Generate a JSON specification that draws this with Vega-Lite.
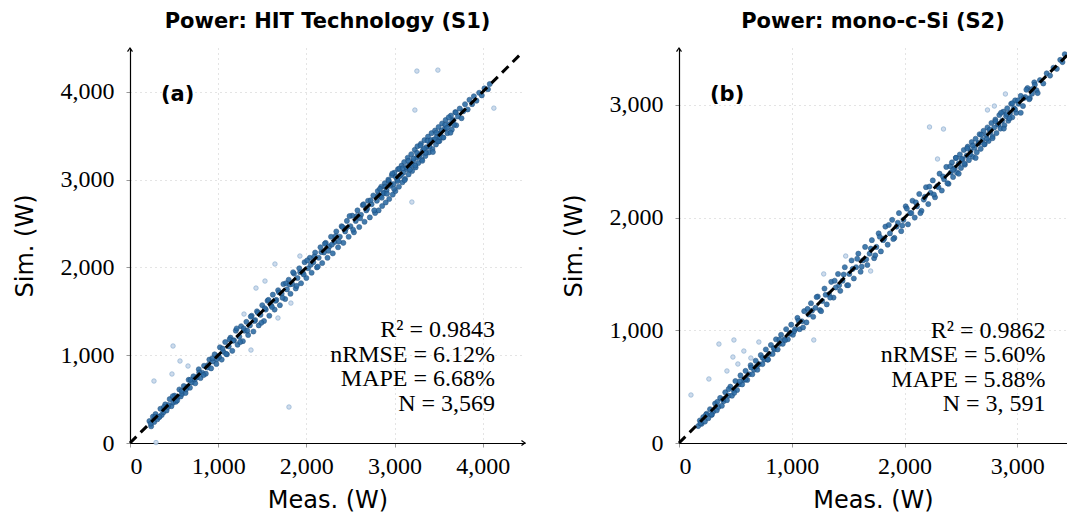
{
  "$schema": "https://vega.github.io/schema/vega-lite/v6.json",
  "padding": {"left": 13, "top": 10, "right": 0, "bottom": 0},
  "background": "white",
  "spacing": 34,
  "config": {
    "view": {"stroke": null},
    "axis": {
      "labelFont": "Liberation Serif", "labelFontSize": 24, "labelColor": "black",
      "tickColor": "#999", "tickSize": 4, "domainColor": "black", "domainWidth": 1.2,
      "grid": true, "gridColor": "#c8c8c8", "gridDash": [1, 4], "gridWidth": 1,
      "titleFont": "DejaVu Sans", "titleFontSize": 24, "titleFontWeight": "normal", "titleColor": "black",
      "labelExpr": "format(datum.value, ',')"
    },
    "axisX": {"labelPadding": 7, "titlePadding": 10},
    "axisY": {"labelPadding": 12, "titlePadding": 23},
    "title": {"font": "DejaVu Sans", "fontSize": 21, "fontWeight": "bold", "color": "black", "frame": "group", "offset": 14}
  },
  "datasets": {
    "a": [
      {"m":220,"s":250,"k":"m"},{"m":240,"s":190,"k":"m"},{"m":260,"s":300,"k":"m"},{"m":275,"s":240,"k":"m"},{"m":290,"s":330,"k":"m"},{"m":310,"s":270,"k":"m"},{"m":330,"s":300,"k":"m"},{"m":345,"s":390,"k":"m"},{"m":360,"s":320,"k":"m"},{"m":380,"s":350,"k":"m"},
      {"m":400,"s":440,"k":"m"},{"m":415,"s":370,"k":"m"},{"m":430,"s":410,"k":"m"},{"m":450,"s":500,"k":"m"},{"m":470,"s":420,"k":"m"},{"m":490,"s":460,"k":"m"},{"m":505,"s":540,"k":"m"},{"m":520,"s":470,"k":"m"},{"m":540,"s":520,"k":"m"},{"m":560,"s":610,"k":"m"},
      {"m":575,"s":530,"k":"m"},{"m":590,"s":560,"k":"m"},{"m":610,"s":650,"k":"m"},{"m":630,"s":570,"k":"m"},{"m":650,"s":640,"k":"m"},{"m":665,"s":720,"k":"m"},{"m":680,"s":630,"k":"m"},{"m":700,"s":690,"k":"m"},{"m":720,"s":760,"k":"m"},{"m":740,"s":680,"k":"m"},
      {"m":760,"s":750,"k":"m"},{"m":780,"s":840,"k":"m"},{"m":800,"s":740,"k":"m"},{"m":820,"s":800,"k":"m"},{"m":840,"s":880,"k":"m"},{"m":860,"s":790,"k":"m"},{"m":880,"s":860,"k":"m"},{"m":900,"s":950,"k":"m"},{"m":920,"s":850,"k":"m"},{"m":940,"s":930,"k":"m"},
      {"m":960,"s":1010,"k":"m"},{"m":980,"s":900,"k":"m"},{"m":1000,"s":990,"k":"m"},
      {"m":1020,"s":1090,"k":"m"},{"m":1040,"s":950,"k":"m"},{"m":1060,"s":1040,"k":"m"},{"m":1080,"s":1150,"k":"m"},{"m":1100,"s":1010,"k":"m"},{"m":1120,"s":1100,"k":"m"},{"m":1140,"s":1200,"k":"m"},{"m":1160,"s":1050,"k":"m"},{"m":1180,"s":1170,"k":"m"},{"m":1200,"s":1280,"k":"m"},
      {"m":1220,"s":1120,"k":"m"},{"m":1240,"s":1210,"k":"m"},{"m":1260,"s":1330,"k":"m"},{"m":1280,"s":1160,"k":"m"},{"m":1300,"s":1280,"k":"m"},{"m":1320,"s":1380,"k":"m"},{"m":1340,"s":1230,"k":"m"},{"m":1360,"s":1340,"k":"m"},{"m":1380,"s":1450,"k":"m"},{"m":1400,"s":1270,"k":"m"},
      {"m":1420,"s":1400,"k":"m"},{"m":1440,"s":1500,"k":"m"},{"m":1460,"s":1340,"k":"m"},{"m":1480,"s":1460,"k":"m"},{"m":1500,"s":1570,"k":"m"},{"m":1520,"s":1390,"k":"m"},{"m":1540,"s":1520,"k":"m"},{"m":1560,"s":1620,"k":"m"},{"m":1580,"s":1450,"k":"m"},{"m":1600,"s":1570,"k":"m"},
      {"m":1620,"s":1690,"k":"m"},{"m":1640,"s":1520,"k":"m"},{"m":1660,"s":1630,"k":"m"},{"m":1680,"s":1740,"k":"m"},{"m":1700,"s":1570,"k":"m"},{"m":1720,"s":1700,"k":"m"},{"m":1740,"s":1810,"k":"m"},{"m":1760,"s":1640,"k":"m"},{"m":1780,"s":1750,"k":"m"},{"m":1800,"s":1860,"k":"m"},
      {"m":1820,"s":1700,"k":"m"},{"m":1840,"s":1810,"k":"m"},{"m":1860,"s":1930,"k":"m"},{"m":1880,"s":1760,"k":"m"},{"m":1900,"s":1880,"k":"m"},{"m":1920,"s":1990,"k":"m"},{"m":1940,"s":1820,"k":"m"},{"m":1960,"s":1940,"k":"m"},{"m":1980,"s":2060,"k":"m"},{"m":2000,"s":1880,"k":"m"},
      {"m":2020,"s":1990,"k":"m"},{"m":2040,"s":2110,"k":"m"},{"m":2060,"s":1940,"k":"m"},{"m":2080,"s":2060,"k":"m"},{"m":2100,"s":2170,"k":"m"},{"m":2120,"s":2000,"k":"m"},{"m":2140,"s":2110,"k":"m"},{"m":2160,"s":2230,"k":"m"},{"m":2180,"s":2050,"k":"m"},{"m":2200,"s":2170,"k":"m"},
      {"m":2220,"s":2280,"k":"m"},{"m":2240,"s":2110,"k":"m"},{"m":2260,"s":2240,"k":"m"},{"m":2280,"s":2350,"k":"m"},{"m":2300,"s":2160,"k":"m"},{"m":2320,"s":2290,"k":"m"},{"m":2340,"s":2410,"k":"m"},{"m":2360,"s":2230,"k":"m"},{"m":2380,"s":2350,"k":"m"},{"m":2400,"s":2470,"k":"m"},
      {"m":2420,"s":2280,"k":"m"},{"m":2440,"s":2410,"k":"m"},{"m":2460,"s":2530,"k":"m"},{"m":2480,"s":2350,"k":"m"},{"m":2500,"s":2470,"k":"m"},{"m":2520,"s":2590,"k":"m"},{"m":2540,"s":2400,"k":"m"},{"m":2560,"s":2530,"k":"m"},{"m":2580,"s":2650,"k":"m"},{"m":2600,"s":2460,"k":"m"},
      {"m":2620,"s":2600,"k":"m"},{"m":2640,"s":2710,"k":"m"},{"m":2660,"s":2520,"k":"m"},{"m":2680,"s":2650,"k":"m"},{"m":2700,"s":2760,"k":"m"},{"m":2720,"s":2570,"k":"m"},{"m":2740,"s":2720,"k":"m"},{"m":2760,"s":2820,"k":"m"},{"m":2780,"s":2620,"k":"m"},
      {"m":2800,"s":2760,"k":"m"},{"m":2810,"s":2870,"k":"m"},{"m":2820,"s":2650,"k":"m"},{"m":2840,"s":2810,"k":"m"},{"m":2850,"s":2920,"k":"m"},{"m":2860,"s":2700,"k":"m"},{"m":2880,"s":2850,"k":"m"},{"m":2890,"s":2960,"k":"m"},{"m":2900,"s":2740,"k":"m"},{"m":2910,"s":2880,"k":"m"},
      {"m":2930,"s":3000,"k":"m"},{"m":2940,"s":2780,"k":"m"},{"m":2950,"s":2930,"k":"m"},{"m":2970,"s":3050,"k":"m"},{"m":2980,"s":2830,"k":"m"},{"m":2990,"s":2950,"k":"m"},{"m":3000,"s":3080,"k":"m"},{"m":3010,"s":2870,"k":"m"},{"m":3030,"s":3000,"k":"m"},{"m":3040,"s":3120,"k":"m"},
      {"m":3050,"s":2920,"k":"m"},{"m":3060,"s":3040,"k":"m"},{"m":3080,"s":3160,"k":"m"},{"m":3090,"s":2970,"k":"m"},{"m":3100,"s":3080,"k":"m"},{"m":3110,"s":3200,"k":"m"},{"m":3120,"s":3010,"k":"m"},{"m":3140,"s":3120,"k":"m"},{"m":3150,"s":3250,"k":"m"},{"m":3160,"s":3060,"k":"m"},
      {"m":3170,"s":3170,"k":"m"},{"m":3190,"s":3290,"k":"m"},{"m":3200,"s":3100,"k":"m"},{"m":3210,"s":3210,"k":"m"},{"m":3230,"s":3340,"k":"m"},{"m":3240,"s":3140,"k":"m"},{"m":3250,"s":3250,"k":"m"},{"m":3260,"s":3380,"k":"m"},{"m":3270,"s":3190,"k":"m"},{"m":3290,"s":3290,"k":"m"},
      {"m":3300,"s":3410,"k":"m"},{"m":3310,"s":3230,"k":"m"},{"m":3320,"s":3330,"k":"m"},{"m":3340,"s":3450,"k":"m"},{"m":3350,"s":3270,"k":"m"},{"m":3360,"s":3370,"k":"m"},{"m":3380,"s":3490,"k":"m"},{"m":3390,"s":3310,"k":"m"},{"m":3400,"s":3410,"k":"m"},{"m":3420,"s":3530,"k":"m"},
      {"m":3430,"s":3350,"k":"m"},{"m":3440,"s":3450,"k":"m"},{"m":3460,"s":3560,"k":"m"},{"m":3470,"s":3400,"k":"m"},{"m":3480,"s":3490,"k":"m"},{"m":3500,"s":3600,"k":"m"},{"m":3510,"s":3440,"k":"m"},{"m":3520,"s":3530,"k":"m"},{"m":3540,"s":3640,"k":"m"},{"m":3550,"s":3480,"k":"m"},
      {"m":3570,"s":3580,"k":"m"},{"m":3580,"s":3680,"k":"m"},{"m":3600,"s":3530,"k":"m"},{"m":3620,"s":3630,"k":"m"},{"m":3640,"s":3730,"k":"m"},{"m":3650,"s":3570,"k":"m"},{"m":3670,"s":3680,"k":"m"},{"m":3690,"s":3770,"k":"m"},{"m":3700,"s":3620,"k":"m"},{"m":3720,"s":3720,"k":"m"},
      {"m":3740,"s":3810,"k":"m"},{"m":3760,"s":3700,"k":"m"},{"m":3780,"s":3780,"k":"m"},{"m":3800,"s":3860,"k":"m"},
      {"m":3830,"s":3800,"k":"m"},{"m":3850,"s":3910,"k":"m"},{"m":3880,"s":3860,"k":"m"},{"m":3900,"s":3950,"k":"m"},{"m":3930,"s":3900,"k":"m"},{"m":3960,"s":3990,"k":"m"},{"m":3990,"s":3960,"k":"m"},{"m":4020,"s":4040,"k":"m"},{"m":4060,"s":4030,"k":"m"},{"m":4080,"s":4090,"k":"m"},
      {"m":1010,"s":980,"k":"m"},{"m":1050,"s":1075,"k":"m"},{"m":1090,"s":1015,"k":"m"},{"m":1130,"s":1180,"k":"m"},{"m":1170,"s":1165,"k":"m"},{"m":1210,"s":1305,"k":"m"},{"m":1250,"s":1150,"k":"m"},{"m":1290,"s":1305,"k":"m"},{"m":1330,"s":1280,"k":"m"},{"m":1370,"s":1440,"k":"m"},
      {"m":1410,"s":1390,"k":"m"},{"m":1450,"s":1485,"k":"m"},{"m":1490,"s":1370,"k":"m"},{"m":1530,"s":1535,"k":"m"},{"m":1570,"s":1630,"k":"m"},{"m":1610,"s":1550,"k":"m"},{"m":1650,"s":1620,"k":"m"},{"m":1690,"s":1715,"k":"m"},{"m":1730,"s":1655,"k":"m"},{"m":1770,"s":1820,"k":"m"},
      {"m":1810,"s":1805,"k":"m"},{"m":1850,"s":1945,"k":"m"},{"m":1890,"s":1790,"k":"m"},{"m":1930,"s":1945,"k":"m"},{"m":1970,"s":1920,"k":"m"},{"m":2010,"s":2080,"k":"m"},{"m":2050,"s":2030,"k":"m"},{"m":2090,"s":2125,"k":"m"},{"m":2130,"s":2010,"k":"m"},{"m":2170,"s":2175,"k":"m"},
      {"m":2210,"s":2270,"k":"m"},{"m":2250,"s":2190,"k":"m"},{"m":2290,"s":2260,"k":"m"},{"m":2330,"s":2355,"k":"m"},{"m":2370,"s":2295,"k":"m"},{"m":2410,"s":2460,"k":"m"},{"m":2450,"s":2445,"k":"m"},{"m":2490,"s":2585,"k":"m"},{"m":2530,"s":2430,"k":"m"},{"m":2570,"s":2585,"k":"m"},
      {"m":2610,"s":2560,"k":"m"},{"m":2650,"s":2720,"k":"m"},{"m":2690,"s":2670,"k":"m"},{"m":2730,"s":2765,"k":"m"},{"m":2770,"s":2650,"k":"m"},{"m":2815,"s":2820,"k":"m"},{"m":2835,"s":2895,"k":"m"},{"m":2855,"s":2795,"k":"m"},{"m":2875,"s":2845,"k":"m"},{"m":2895,"s":2920,"k":"m"},
      {"m":2915,"s":2840,"k":"m"},{"m":2935,"s":2985,"k":"m"},{"m":2955,"s":2950,"k":"m"},{"m":2975,"s":3070,"k":"m"},{"m":2995,"s":2895,"k":"m"},{"m":3015,"s":3030,"k":"m"},{"m":3035,"s":2985,"k":"m"},{"m":3055,"s":3125,"k":"m"},{"m":3075,"s":3055,"k":"m"},{"m":3095,"s":3130,"k":"m"},
      {"m":3115,"s":2995,"k":"m"},{"m":3135,"s":3140,"k":"m"},{"m":3155,"s":3215,"k":"m"},{"m":3175,"s":3115,"k":"m"},{"m":3195,"s":3165,"k":"m"},{"m":3215,"s":3240,"k":"m"},{"m":3235,"s":3160,"k":"m"},{"m":3255,"s":3305,"k":"m"},{"m":3275,"s":3270,"k":"m"},{"m":3295,"s":3390,"k":"m"},
      {"m":3315,"s":3215,"k":"m"},{"m":3335,"s":3350,"k":"m"},{"m":3355,"s":3305,"k":"m"},{"m":3375,"s":3445,"k":"m"},{"m":3395,"s":3375,"k":"m"},{"m":3415,"s":3450,"k":"m"},{"m":3435,"s":3315,"k":"m"},{"m":3455,"s":3460,"k":"m"},{"m":3475,"s":3535,"k":"m"},{"m":3495,"s":3435,"k":"m"},
      {"m":3515,"s":3485,"k":"m"},{"m":3535,"s":3560,"k":"m"},{"m":3555,"s":3480,"k":"m"},{"m":3575,"s":3625,"k":"m"},{"m":3595,"s":3590,"k":"m"},{"m":3615,"s":3710,"k":"m"},{"m":3635,"s":3535,"k":"m"},{"m":3655,"s":3670,"k":"m"},{"m":3675,"s":3625,"k":"m"},{"m":3695,"s":3765,"k":"m"},
      {"m":235,"s":220,"k":"m"},{"m":285,"s":297,"k":"m"},{"m":335,"s":297,"k":"m"},{"m":385,"s":410,"k":"m"},{"m":435,"s":432,"k":"m"},{"m":485,"s":533,"k":"m"},{"m":535,"s":485,"k":"m"},{"m":585,"s":593,"k":"m"},{"m":635,"s":610,"k":"m"},{"m":685,"s":720,"k":"m"},
      {"m":735,"s":725,"k":"m"},{"m":785,"s":803,"k":"m"},{"m":835,"s":775,"k":"m"},{"m":885,"s":888,"k":"m"},{"m":935,"s":965,"k":"m"},{"m":985,"s":955,"k":"m"},
      {"m":3254,"s":4237,"k":"o"},{"m":3492,"s":4248,"k":"o"},{"m":3231,"s":3793,"k":"o"},{"m":4127,"s":3815,"k":"o"},{"m":3197,"s":2745,"k":"o"},{"m":1803,"s":410,"k":"o"},{"m":295,"s":5,"k":"o"},{"m":272,"s":706,"k":"o"},{"m":488,"s":1105,"k":"o"},{"m":567,"s":934,"k":"o"},
      {"m":476,"s":786,"k":"o"},{"m":658,"s":877,"k":"o"},{"m":1293,"s":1469,"k":"o"},{"m":1372,"s":1059,"k":"o"},{"m":1429,"s":1765,"k":"o"},{"m":1644,"s":2039,"k":"o"},{"m":1927,"s":2130,"k":"o"},{"m":1825,"s":1594,"k":"o"},{"m":1531,"s":1845,"k":"o"},{"m":1678,"s":1424,"k":"o"}
    ],
    "b": [
      {"m":170,"s":150,"k":"m"},{"m":185,"s":200,"k":"m"},{"m":200,"s":170,"k":"m"},{"m":215,"s":230,"k":"m"},{"m":230,"s":190,"k":"m"},{"m":245,"s":260,"k":"m"},{"m":260,"s":220,"k":"m"},{"m":275,"s":300,"k":"m"},{"m":290,"s":250,"k":"m"},{"m":305,"s":280,"k":"m"},
      {"m":320,"s":350,"k":"m"},{"m":335,"s":290,"k":"m"},{"m":350,"s":320,"k":"m"},{"m":365,"s":400,"k":"m"},{"m":380,"s":330,"k":"m"},{"m":395,"s":370,"k":"m"},{"m":410,"s":450,"k":"m"},{"m":425,"s":380,"k":"m"},{"m":440,"s":420,"k":"m"},{"m":455,"s":500,"k":"m"},
      {"m":470,"s":420,"k":"m"},{"m":485,"s":470,"k":"m"},{"m":500,"s":550,"k":"m"},{"m":515,"s":470,"k":"m"},{"m":530,"s":520,"k":"m"},{"m":545,"s":600,"k":"m"},{"m":560,"s":520,"k":"m"},{"m":575,"s":560,"k":"m"},{"m":590,"s":640,"k":"m"},{"m":605,"s":560,"k":"m"},
      {"m":620,"s":610,"k":"m"},{"m":635,"s":690,"k":"m"},{"m":650,"s":610,"k":"m"},{"m":665,"s":650,"k":"m"},{"m":680,"s":730,"k":"m"},{"m":695,"s":650,"k":"m"},{"m":710,"s":700,"k":"m"},{"m":725,"s":780,"k":"m"},{"m":740,"s":700,"k":"m"},{"m":755,"s":740,"k":"m"},
      {"m":770,"s":830,"k":"m"},{"m":785,"s":740,"k":"m"},{"m":800,"s":790,"k":"m"},{"m":815,"s":870,"k":"m"},{"m":830,"s":790,"k":"m"},{"m":845,"s":830,"k":"m"},{"m":860,"s":920,"k":"m"},{"m":875,"s":830,"k":"m"},{"m":890,"s":880,"k":"m"},{"m":905,"s":960,"k":"m"},
      {"m":920,"s":880,"k":"m"},{"m":935,"s":920,"k":"m"},{"m":950,"s":1010,"k":"m"},{"m":965,"s":920,"k":"m"},{"m":980,"s":970,"k":"m"},{"m":995,"s":1050,"k":"m"},
      {"m":1010,"s":960,"k":"m"},{"m":1030,"s":1010,"k":"m"},{"m":1050,"s":1110,"k":"m"},{"m":1070,"s":1010,"k":"m"},{"m":1090,"s":1080,"k":"m"},{"m":1110,"s":1170,"k":"m"},{"m":1130,"s":1070,"k":"m"},{"m":1150,"s":1140,"k":"m"},{"m":1170,"s":1240,"k":"m"},{"m":1190,"s":1120,"k":"m"},
      {"m":1210,"s":1200,"k":"m"},{"m":1230,"s":1300,"k":"m"},{"m":1250,"s":1180,"k":"m"},{"m":1270,"s":1260,"k":"m"},{"m":1290,"s":1370,"k":"m"},{"m":1310,"s":1230,"k":"m"},{"m":1330,"s":1320,"k":"m"},{"m":1350,"s":1430,"k":"m"},{"m":1370,"s":1290,"k":"m"},{"m":1390,"s":1380,"k":"m"},
      {"m":1410,"s":1500,"k":"m"},{"m":1430,"s":1350,"k":"m"},{"m":1450,"s":1440,"k":"m"},{"m":1470,"s":1560,"k":"m"},{"m":1490,"s":1400,"k":"m"},{"m":1510,"s":1500,"k":"m"},{"m":1530,"s":1620,"k":"m"},{"m":1550,"s":1460,"k":"m"},{"m":1570,"s":1560,"k":"m"},{"m":1590,"s":1680,"k":"m"},
      {"m":1610,"s":1520,"k":"m"},{"m":1630,"s":1620,"k":"m"},{"m":1650,"s":1740,"k":"m"},{"m":1670,"s":1580,"k":"m"},{"m":1690,"s":1680,"k":"m"},{"m":1710,"s":1800,"k":"m"},{"m":1730,"s":1640,"k":"m"},{"m":1750,"s":1740,"k":"m"},{"m":1770,"s":1860,"k":"m"},{"m":1790,"s":1700,"k":"m"},
      {"m":1810,"s":1800,"k":"m"},{"m":1830,"s":1920,"k":"m"},{"m":1850,"s":1760,"k":"m"},{"m":1870,"s":1860,"k":"m"},{"m":1890,"s":1980,"k":"m"},{"m":1910,"s":1820,"k":"m"},{"m":1930,"s":1920,"k":"m"},{"m":1950,"s":2040,"k":"m"},{"m":1970,"s":1880,"k":"m"},{"m":1990,"s":1980,"k":"m"},
      {"m":2010,"s":2100,"k":"m"},{"m":2030,"s":1940,"k":"m"},{"m":2050,"s":2040,"k":"m"},{"m":2070,"s":2150,"k":"m"},{"m":2090,"s":2000,"k":"m"},{"m":2110,"s":2100,"k":"m"},{"m":2130,"s":2210,"k":"m"},{"m":2150,"s":2060,"k":"m"},{"m":2170,"s":2160,"k":"m"},{"m":2190,"s":2270,"k":"m"},
      {"m":2210,"s":2120,"k":"m"},{"m":2230,"s":2220,"k":"m"},{"m":2250,"s":2330,"k":"m"},{"m":2270,"s":2180,"k":"m"},{"m":2290,"s":2280,"k":"m"},{"m":2310,"s":2390,"k":"m"},{"m":2330,"s":2240,"k":"m"},{"m":2350,"s":2340,"k":"m"},{"m":2370,"s":2450,"k":"m"},{"m":2390,"s":2300,"k":"m"},
      {"m":2410,"s":2400,"k":"m"},{"m":2420,"s":2490,"k":"m"},{"m":2430,"s":2360,"k":"m"},{"m":2445,"s":2440,"k":"m"},{"m":2455,"s":2530,"k":"m"},{"m":2465,"s":2400,"k":"m"},{"m":2480,"s":2480,"k":"m"},{"m":2490,"s":2560,"k":"m"},{"m":2500,"s":2440,"k":"m"},{"m":2515,"s":2520,"k":"m"},
      {"m":2525,"s":2600,"k":"m"},{"m":2535,"s":2470,"k":"m"},{"m":2550,"s":2550,"k":"m"},{"m":2560,"s":2630,"k":"m"},{"m":2570,"s":2510,"k":"m"},{"m":2585,"s":2590,"k":"m"},{"m":2595,"s":2670,"k":"m"},{"m":2605,"s":2540,"k":"m"},{"m":2620,"s":2620,"k":"m"},{"m":2630,"s":2700,"k":"m"},
      {"m":2640,"s":2580,"k":"m"},{"m":2655,"s":2660,"k":"m"},{"m":2665,"s":2740,"k":"m"},{"m":2675,"s":2610,"k":"m"},{"m":2690,"s":2690,"k":"m"},{"m":2700,"s":2770,"k":"m"},{"m":2710,"s":2650,"k":"m"},{"m":2725,"s":2730,"k":"m"},{"m":2735,"s":2800,"k":"m"},{"m":2745,"s":2680,"k":"m"},
      {"m":2760,"s":2760,"k":"m"},{"m":2770,"s":2840,"k":"m"},{"m":2780,"s":2720,"k":"m"},{"m":2795,"s":2800,"k":"m"},{"m":2805,"s":2870,"k":"m"},{"m":2815,"s":2750,"k":"m"},{"m":2830,"s":2830,"k":"m"},{"m":2840,"s":2910,"k":"m"},{"m":2850,"s":2790,"k":"m"},{"m":2865,"s":2860,"k":"m"},
      {"m":2875,"s":2940,"k":"m"},{"m":2885,"s":2820,"k":"m"},{"m":2900,"s":2900,"k":"m"},{"m":2910,"s":2970,"k":"m"},{"m":2920,"s":2860,"k":"m"},{"m":2935,"s":2930,"k":"m"},{"m":2945,"s":3010,"k":"m"},{"m":2955,"s":2890,"k":"m"},{"m":2970,"s":2970,"k":"m"},{"m":2980,"s":3040,"k":"m"},
      {"m":2990,"s":2930,"k":"m"},{"m":3010,"s":3010,"k":"m"},{"m":3030,"s":3080,"k":"m"},{"m":3050,"s":2990,"k":"m"},{"m":3070,"s":3070,"k":"m"},{"m":3090,"s":3150,"k":"m"},{"m":3110,"s":3060,"k":"m"},{"m":3130,"s":3140,"k":"m"},{"m":3150,"s":3200,"k":"m"},{"m":3170,"s":3130,"k":"m"},
      {"m":3200,"s":3220,"k":"m"},{"m":3230,"s":3190,"k":"m"},{"m":3260,"s":3280,"k":"m"},{"m":3290,"s":3260,"k":"m"},{"m":3320,"s":3330,"k":"m"},{"m":3350,"s":3320,"k":"m"},{"m":3380,"s":3400,"k":"m"},{"m":3400,"s":3380,"k":"m"},{"m":3420,"s":3450,"k":"m"},
      {"m":1020,"s":990,"k":"m"},{"m":1060,"s":1085,"k":"m"},{"m":1100,"s":1025,"k":"m"},{"m":1140,"s":1190,"k":"m"},{"m":1180,"s":1175,"k":"m"},{"m":1220,"s":1295,"k":"m"},{"m":1260,"s":1170,"k":"m"},{"m":1300,"s":1315,"k":"m"},{"m":1340,"s":1290,"k":"m"},{"m":1380,"s":1440,"k":"m"},
      {"m":1420,"s":1400,"k":"m"},{"m":1460,"s":1495,"k":"m"},{"m":1500,"s":1400,"k":"m"},{"m":1540,"s":1545,"k":"m"},{"m":1580,"s":1635,"k":"m"},{"m":1620,"s":1565,"k":"m"},{"m":1660,"s":1630,"k":"m"},{"m":1700,"s":1725,"k":"m"},{"m":1740,"s":1665,"k":"m"},{"m":1780,"s":1830,"k":"m"},
      {"m":1820,"s":1815,"k":"m"},{"m":1860,"s":1935,"k":"m"},{"m":1900,"s":1810,"k":"m"},{"m":1940,"s":1955,"k":"m"},{"m":1980,"s":1930,"k":"m"},{"m":2020,"s":2080,"k":"m"},{"m":2060,"s":2040,"k":"m"},{"m":2100,"s":2135,"k":"m"},{"m":2140,"s":2040,"k":"m"},{"m":2180,"s":2185,"k":"m"},
      {"m":2220,"s":2275,"k":"m"},{"m":2260,"s":2205,"k":"m"},{"m":2300,"s":2270,"k":"m"},{"m":2340,"s":2365,"k":"m"},{"m":2380,"s":2305,"k":"m"},
      {"m":2405,"s":2455,"k":"m"},{"m":2430,"s":2425,"k":"m"},{"m":2455,"s":2530,"k":"m"},{"m":2480,"s":2390,"k":"m"},{"m":2505,"s":2520,"k":"m"},{"m":2530,"s":2480,"k":"m"},{"m":2555,"s":2615,"k":"m"},{"m":2580,"s":2560,"k":"m"},{"m":2605,"s":2640,"k":"m"},{"m":2630,"s":2530,"k":"m"},
      {"m":2655,"s":2660,"k":"m"},{"m":2680,"s":2735,"k":"m"},{"m":2705,"s":2650,"k":"m"},{"m":2730,"s":2700,"k":"m"},{"m":2755,"s":2780,"k":"m"},{"m":2780,"s":2705,"k":"m"},{"m":2805,"s":2855,"k":"m"},{"m":2830,"s":2825,"k":"m"},{"m":2855,"s":2930,"k":"m"},{"m":2880,"s":2790,"k":"m"},
      {"m":2905,"s":2920,"k":"m"},{"m":2930,"s":2880,"k":"m"},{"m":2955,"s":3015,"k":"m"},{"m":2980,"s":2960,"k":"m"},{"m":3005,"s":3040,"k":"m"},{"m":3030,"s":2930,"k":"m"},{"m":3055,"s":3060,"k":"m"},{"m":3080,"s":3135,"k":"m"},{"m":3105,"s":3050,"k":"m"},{"m":3130,"s":3100,"k":"m"},
      {"m":3155,"s":3180,"k":"m"},{"m":3180,"s":3105,"k":"m"},
      {"m":190,"s":175,"k":"m"},{"m":240,"s":252,"k":"m"},{"m":290,"s":252,"k":"m"},{"m":340,"s":365,"k":"m"},{"m":390,"s":387,"k":"m"},{"m":440,"s":478,"k":"m"},{"m":490,"s":445,"k":"m"},{"m":540,"s":548,"k":"m"},{"m":590,"s":565,"k":"m"},{"m":640,"s":670,"k":"m"},
      {"m":690,"s":680,"k":"m"},{"m":740,"s":758,"k":"m"},{"m":790,"s":740,"k":"m"},{"m":840,"s":843,"k":"m"},{"m":890,"s":918,"k":"m"},{"m":940,"s":912,"k":"m"},{"m":990,"s":975,"k":"m"},
      {"m":106,"s":426,"k":"o"},{"m":354,"s":878,"k":"o"},{"m":487,"s":914,"k":"o"},{"m":265,"s":568,"k":"o"},{"m":478,"s":763,"k":"o"},{"m":575,"s":816,"k":"o"},{"m":637,"s":754,"k":"o"},{"m":425,"s":639,"k":"o"},{"m":522,"s":701,"k":"o"},{"m":708,"s":896,"k":"o"},
      {"m":1195,"s":914,"k":"o"},{"m":1283,"s":1500,"k":"o"},{"m":1478,"s":1659,"k":"o"},{"m":1699,"s":1526,"k":"o"},{"m":2221,"s":2804,"k":"o"},{"m":2345,"s":2786,"k":"o"},{"m":2292,"s":2520,"k":"o"},{"m":2735,"s":2955,"k":"o"},{"m":2796,"s":2990,"k":"o"},{"m":2894,"s":3097,"k":"o"}
    ]
  },
  "hconcat": [
    {
      "title": "Power: HIT Technology (S1)",
      "width": 395, "height": 395,
      "layer": [
        {"data": {"name": "a"}, "transform": [{"filter": "datum.k === 'o'"}],
         "mark": {"type": "point", "filled": true, "size": 20, "fill": "#c9d8ea", "stroke": "#8db0d2", "strokeWidth": 0.8, "opacity": 0.9},
         "encoding": {
           "x": {"field": "m", "type": "quantitative", "title": "Meas. (W)", "scale": {"domain": [0, 4480], "nice": false}, "axis": {"values": [0, 1000, 2000, 3000, 4000]}},
           "y": {"field": "s", "type": "quantitative", "title": "Sim. (W)", "scale": {"domain": [0, 4500], "nice": false}, "axis": {"values": [0, 1000, 2000, 3000, 4000]}}
         }},
        {"data": {"name": "a"}, "transform": [{"filter": "datum.k === 'm'"}],
         "mark": {"type": "point", "filled": true, "size": 26, "fill": "#2a6aa3", "stroke": "#1b4c7c", "strokeWidth": 0.6, "opacity": 0.88},
         "encoding": {"x": {"field": "m", "type": "quantitative"}, "y": {"field": "s", "type": "quantitative"}}},
        {"data": {"values": [{"x0": 0, "y0": 0, "x1": 4460, "y1": 4460}]},
         "mark": {"type": "rule", "color": "black", "strokeWidth": 3, "strokeDash": [9, 6]},
         "encoding": {"x": {"field": "x0", "type": "quantitative"}, "y": {"field": "y0", "type": "quantitative"}, "x2": {"field": "x1"}, "y2": {"field": "y1"}}},
        {"data": {"values": [{"x": 4480, "y": 0}]},
         "mark": {"type": "point", "shape": "M-1,-0.7L0,0L-1,0.7", "size": 50, "filled": false, "stroke": "black", "strokeWidth": 1.2, "opacity": 1},
         "encoding": {"x": {"field": "x", "type": "quantitative"}, "y": {"field": "y", "type": "quantitative"}}},
        {"data": {"values": [{"x": 0, "y": 4500}]},
         "mark": {"type": "point", "shape": "M-0.7,1L0,0L0.7,1", "size": 50, "filled": false, "stroke": "black", "strokeWidth": 1.2, "opacity": 1},
         "encoding": {"x": {"field": "x", "type": "quantitative"}, "y": {"field": "y", "type": "quantitative"}}},
        {"data": {"values": [{"x": 351, "y": 3895, "t": "(a)"}]},
         "mark": {"type": "text", "align": "left", "baseline": "alphabetic", "font": "DejaVu Sans", "fontWeight": "bold", "fontSize": 21, "color": "black"},
         "encoding": {"x": {"field": "x", "type": "quantitative"}, "y": {"field": "y", "type": "quantitative"}, "text": {"field": "t"}}},
        {"data": {"values": [{"x": 4140, "y": 1207, "t": "R² = 0.9843"}, {"x": 4140, "y": 928, "t": "nRMSE = 6.12%"}, {"x": 4140, "y": 649, "t": "MAPE = 6.68%"}, {"x": 4140, "y": 370, "t": "N = 3,569"}]},
         "mark": {"type": "text", "align": "right", "baseline": "alphabetic", "font": "Liberation Serif", "fontSize": 24, "color": "black"},
         "encoding": {"x": {"field": "x", "type": "quantitative"}, "y": {"field": "y", "type": "quantitative"}, "text": {"field": "t"}}}
      ]
    },
    {
      "title": "Power: mono-c-Si (S2)",
      "width": 388, "height": 395,
      "layer": [
        {"data": {"name": "b"}, "transform": [{"filter": "datum.k === 'o'"}],
         "mark": {"type": "point", "filled": true, "size": 20, "fill": "#c9d8ea", "stroke": "#8db0d2", "strokeWidth": 0.8, "opacity": 0.9},
         "encoding": {
           "x": {"field": "m", "type": "quantitative", "title": "Meas. (W)", "scale": {"domain": [0, 3440], "nice": false}, "axis": {"values": [0, 1000, 2000, 3000]}},
           "y": {"field": "s", "type": "quantitative", "title": "Sim. (W)", "scale": {"domain": [0, 3505], "nice": false}, "axis": {"values": [0, 1000, 2000, 3000]}}
         }},
        {"data": {"name": "b"}, "transform": [{"filter": "datum.k === 'm'"}],
         "mark": {"type": "point", "filled": true, "size": 26, "fill": "#2a6aa3", "stroke": "#1b4c7c", "strokeWidth": 0.6, "opacity": 0.88},
         "encoding": {"x": {"field": "m", "type": "quantitative"}, "y": {"field": "s", "type": "quantitative"}}},
        {"data": {"values": [{"x0": 0, "y0": 0, "x1": 3440, "y1": 3440}]},
         "mark": {"type": "rule", "color": "black", "strokeWidth": 3, "strokeDash": [9, 6]},
         "encoding": {"x": {"field": "x0", "type": "quantitative"}, "y": {"field": "y0", "type": "quantitative"}, "x2": {"field": "x1"}, "y2": {"field": "y1"}}},
        {"data": {"values": [{"x": 0, "y": 3505}]},
         "mark": {"type": "point", "shape": "M-0.7,1L0,0L0.7,1", "size": 50, "filled": false, "stroke": "black", "strokeWidth": 1.2, "opacity": 1},
         "encoding": {"x": {"field": "x", "type": "quantitative"}, "y": {"field": "y", "type": "quantitative"}}},
        {"data": {"values": [{"x": 275, "y": 3035, "t": "(b)"}]},
         "mark": {"type": "text", "align": "left", "baseline": "alphabetic", "font": "DejaVu Sans", "fontWeight": "bold", "fontSize": 21, "color": "black"},
         "encoding": {"x": {"field": "x", "type": "quantitative"}, "y": {"field": "y", "type": "quantitative"}, "text": {"field": "t"}}},
        {"data": {"values": [{"x": 3250, "y": 934, "t": "R² = 0.9862"}, {"x": 3250, "y": 717, "t": "nRMSE = 5.60%"}, {"x": 3250, "y": 500, "t": "MAPE = 5.88%"}, {"x": 3250, "y": 283, "t": "N = 3, 591"}]},
         "mark": {"type": "text", "align": "right", "baseline": "alphabetic", "font": "Liberation Serif", "fontSize": 24, "color": "black"},
         "encoding": {"x": {"field": "x", "type": "quantitative"}, "y": {"field": "y", "type": "quantitative"}, "text": {"field": "t"}}}
      ]
    }
  ]
}
